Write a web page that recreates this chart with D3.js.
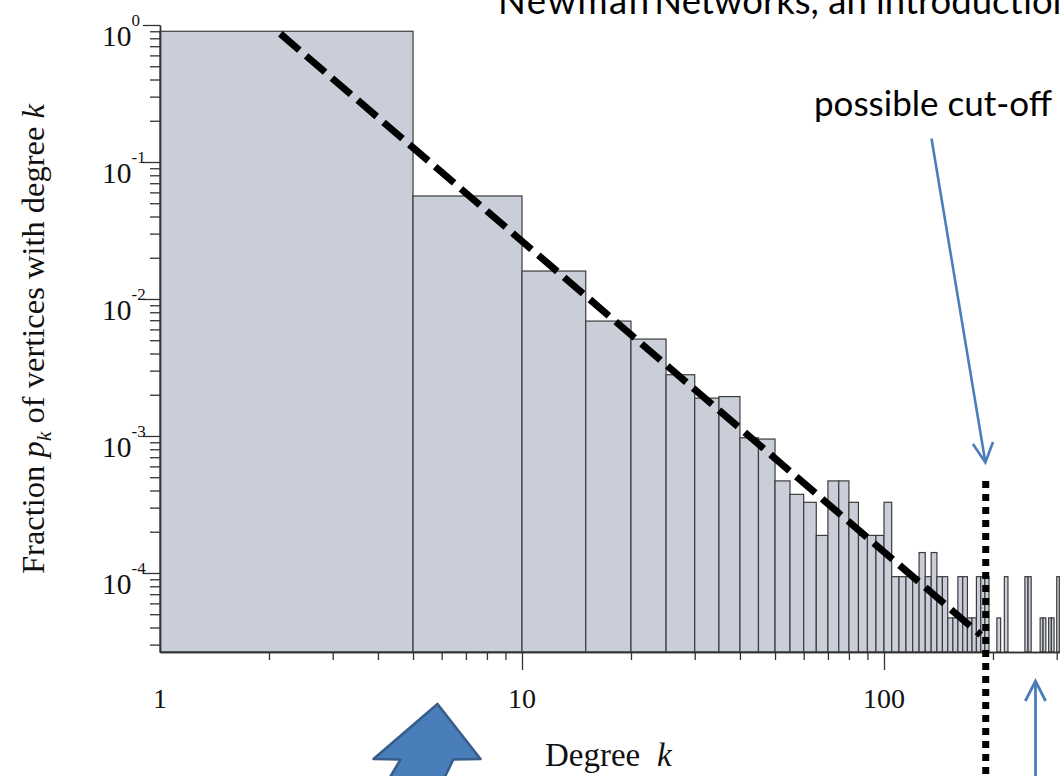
<!DOCTYPE html>
<html><head><meta charset="utf-8">
<script src="https://cdn.jsdelivr.net/npm/d3@7"></script>
<style>html,body{margin:0;padding:0;background:#fff;overflow:hidden}svg{display:block}</style>
</head><body><svg id="c" width="1060" height="776"></svg>
<script>
// ---- data (histogram of degree k, linear bins of width 5 on log axes) ----
const binLow  = [1,5,10,15,20,25,30,35,40,45,50,55,60,65,70,75,80,85,90,95,100,105,110,115,120,125,130,135,140,145,150,155,160,165,170,175,180,185,190,205,215,245,250,270,275,285,290,300];
const binHigh = [5,10,15,20,25,30,35,40,45,50,55,60,65,70,75,80,85,90,95,100,105,110,115,120,125,130,135,140,145,150,155,160,165,170,175,180,185,190,195,210,220,250,255,275,280,290,295,305];
const pk      = [0.90,0.0565,0.0160,0.0069,0.0051,0.0028,0.00189,0.00194,0.00097,0.00095,
                 0.00047,0.000375,0.000328,0.000188,0.00047,0.00047,0.000328,0.000188,0.000188,0.000188,
                 0.000328,0.000094,0.000094,0.000094,0.000094,0.000141,0.000094,0.000141,0.000094,0.000094,
                 0.000047,0.000047,0.000094,0.000094,0.000047,0.000047,0.000094,0.000094,0.000094,0.000047,
                 0.000094,0.000094,0.000094,0.000047,0.000047,0.000047,0.000047,0.000094];
// power-law guide line (end points) and cut-off position
const fitK = [2.15, 185];
const fitP = [0.863, 3.53e-5];
const cutoffK = 191;
const cutoffTopP = 4.7e-4;
// tick labels
const xTickVals = [1, 10, 100];
const xTickLabels = ["1", "10", "100"];
const yTickVals = [1, 0.1, 0.01, 0.001, 0.0001];
const yTickExp = ["0", "-1", "-2", "-3", "-4"];

const W = 1060, H = 776;
const svg = d3.select('#c');
const x = d3.scaleLog().domain([1, 1000]).range([160, 1246]);
const yMin = 2.65e-5;
const y = d3.scaleLog().domain([yMin, 1]).range([652, 25]);
const serif = "'Liberation Serif','Times New Roman',serif";
const sans = "Lato,'Open Sans',sans-serif";

svg.append('rect').attr('width', W).attr('height', H).attr('fill', '#ffffff');

// bars
const bars = binLow.map((d, i) => ({lo: d, hi: binHigh[i], p: pk[i]}));
svg.append('g').selectAll('rect').data(bars).join('rect')
  .attr('x', d => x(d.lo)).attr('width', d => x(d.hi) - x(d.lo))
  .attr('y', d => y(d.p)).attr('height', d => y(yMin) - y(d.p))
  .attr('fill', '#c9ced8').attr('stroke', '#3c3c3c').attr('stroke-width', 1.2);

// axes
const yMinor = [];
for (let e = -5; e < 0; e++) for (let m = 2; m <= 9; m++) { const v = m * Math.pow(10, e); if (v >= yMin && v < 1) yMinor.push(v); }
const xMinor = [];
for (let e = 0; e < 3; e++) for (let m = 2; m <= 9; m++) { const v = m * Math.pow(10, e); if (v <= 310) xMinor.push(v); }

function styleAxis(g) {
  g.selectAll('.domain').attr('stroke', '#333').attr('stroke-width', 1.4);
  g.selectAll('.tick line').attr('stroke', '#333').attr('stroke-width', 1.3);
  g.selectAll('.tick text').remove();
}
svg.append('g').attr('transform', 'translate(160,0)')
  .call(d3.axisLeft(y).tickValues(yMinor).tickSize(10).tickSizeOuter(0).tickFormat('')).call(styleAxis);
svg.append('g').attr('transform', 'translate(160,0)')
  .call(d3.axisLeft(y).tickValues(yTickVals).tickSize(17).tickSizeOuter(0).tickFormat('')).call(styleAxis);
svg.append('g').attr('transform', 'translate(0,652)')
  .call(d3.axisBottom(x).tickValues(xMinor).tickSize(8).tickSizeOuter(0).tickFormat('')).call(styleAxis);
svg.append('g').attr('transform', 'translate(0,652)')
  .call(d3.axisBottom(x).tickValues(xTickVals.slice(1)).tickSize(18).tickSizeOuter(0).tickFormat('')).call(styleAxis);

// tick labels
xTickVals.forEach((v, i) => {
  svg.append('text').attr('x', x(v)).attr('y', 708).attr('text-anchor', 'middle')
    .style('font-family', serif).style('font-size', '28px').attr('fill', '#111').text(xTickLabels[i]);
});
yTickVals.forEach((v, i) => {
  const ty = y(v);
  const t = svg.append('text').attr('x', 102).attr('y', ty + 21)
    .style('font-family', serif).style('font-size', '29.5px').attr('fill', '#111');
  t.append('tspan').text('10');
  t.append('tspan').attr('dy', -20).style('font-size', '17px').text(yTickExp[i]);
});

// axis titles
const yt = svg.append('text').attr('transform', 'translate(44,339) rotate(-90)')
  .attr('text-anchor', 'middle').style('font-family', serif).style('font-size', '32.5px').attr('fill', '#111');
yt.append('tspan').text('Fraction ');
yt.append('tspan').style('font-style', 'italic').text('p');
yt.append('tspan').style('font-style', 'italic').style('font-size', '22px').attr('dy', 7).text('k');
yt.append('tspan').attr('dy', -7).text(' of vertices with degree ');
yt.append('tspan').style('font-style', 'italic').text('k');

const xt = svg.append('text').attr('x', 545).attr('y', 766)
  .style('font-family', serif).style('font-size', '33px').attr('fill', '#111');
xt.append('tspan').text('Degree');
xt.append('tspan').attr('x', 657).style('font-style', 'italic').text('k');

// power-law guide (dashed)
svg.append('line')
  .attr('x1', x(fitK[0])).attr('y1', y(fitP[0])).attr('x2', x(fitK[1])).attr('y2', y(fitP[1]))
  .attr('stroke', '#000').attr('stroke-width', 7).attr('stroke-dasharray', '25,9');

// cut-off dotted line
svg.append('line')
  .attr('x1', x(cutoffK)).attr('x2', x(cutoffK)).attr('y1', y(cutoffTopP)).attr('y2', H)
  .attr('stroke', '#000').attr('stroke-width', 7).attr('stroke-dasharray', '7,6');

// annotations (title is cropped at the top edge, as in the source slide)
svg.append('text').attr('x', 498).attr('y', 14).style('font-family', sans).style('font-size', '36.5px')
  .style('letter-spacing', '1.5px').attr('fill', '#000').text('Newman');
svg.append('text').attr('x', 641).attr('y', 14).style('font-family', sans).style('font-size', '36.5px')
  .attr('fill', '#000').text('\u201cNetworks, an introduction\u201d');
svg.append('text').attr('x', 814).attr('y', 116).style('font-family', sans).style('font-size', '35px')
  .attr('fill', '#000').text('possible cut-off');

const blue = '#4a7ebb';
// thin arrow to the cut-off
svg.append('line').attr('x1', 931.5).attr('y1', 138.5).attr('x2', 985.4).attr('y2', 462.5)
  .attr('stroke', blue).attr('stroke-width', 2.6);
svg.append('path').attr('d', 'M972.9,444 L985.4,462.5 L993,442').attr('fill', 'none')
  .attr('stroke', blue).attr('stroke-width', 2.6).attr('stroke-linejoin', 'miter');
// vertical arrow at bottom right
svg.append('line').attr('x1', 1035.5).attr('y1', H + 2).attr('x2', 1035.5).attr('y2', 681)
  .attr('stroke', blue).attr('stroke-width', 2.8);
svg.append('path').attr('d', 'M1025.3,701 L1035.5,681 L1045.6,701').attr('fill', 'none')
  .attr('stroke', blue).attr('stroke-width', 2.8);
// big block arrow
svg.append('path')
  .attr('d', 'M437.5,704 L480.5,759 L453.3,759.5 L443.3,780 L388.3,780 L400.5,759.5 L373.5,759 Z')
  .attr('fill', '#4a7ebb').attr('stroke', '#385d8a').attr('stroke-width', 2.6).attr('stroke-linejoin', 'round');
</script>
</body></html>
